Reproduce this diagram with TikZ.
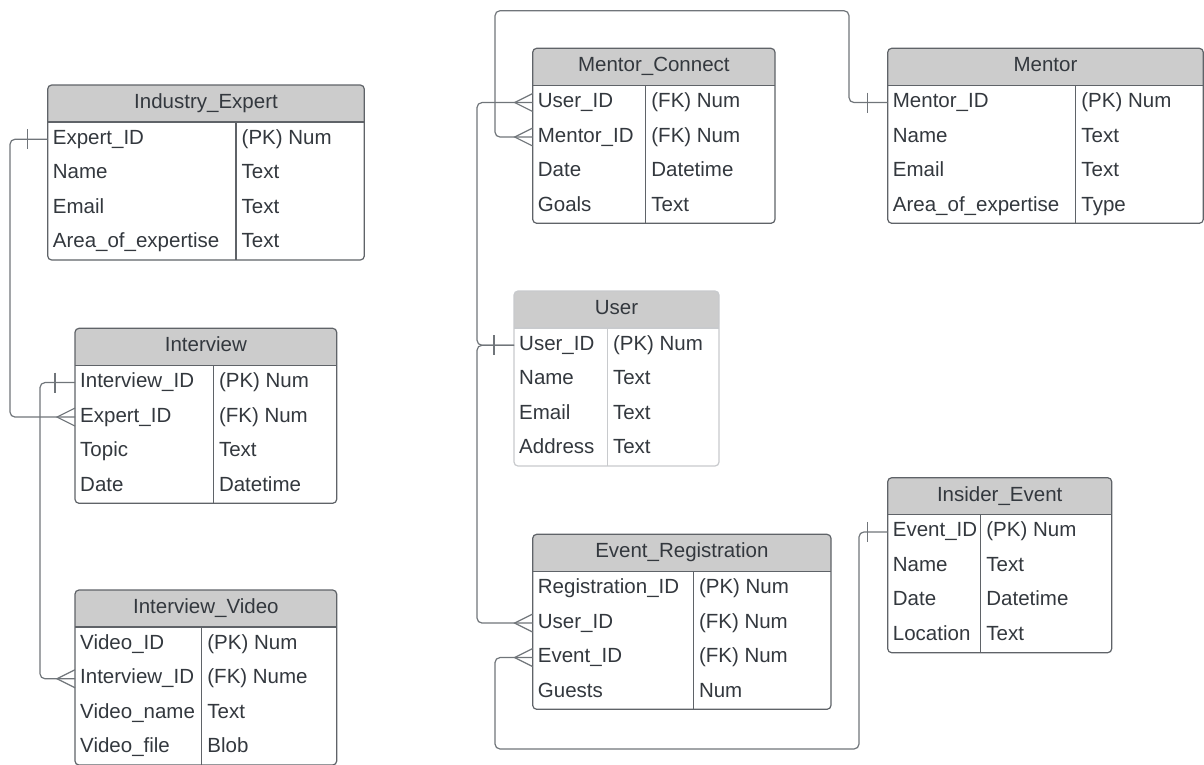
\documentclass[tikz,border=0pt]{standalone}
\usepackage{fontspec}
\setmainfont{Liberation Sans}
\usepackage{tikz}
\definecolor{erink}{HTML}{33383E}
\definecolor{erline}{HTML}{5F6368}
\definecolor{erlight}{HTML}{C8CACD}
\definecolor{erhead}{HTML}{CCCCCC}
\definecolor{erconn}{HTML}{70757A}

% one row of a table: index, field, type
\newcommand{\erfield}[3]{%
  \node[keycell] (\curtab-#1) at (0,{37+34.5*(#1-0.5)}) {#2};
  \node[typecell] (\curtab-#1t) at (\curdiv,{37+34.5*(#1-0.5)}) {#3};}

\begin{document}
\begin{tikzpicture}[x=1pt, y=-1pt, font=\fontsize{20.5}{24}\selectfont, text=erink,
  keycell/.style={anchor=west, inner xsep=5pt, inner ysep=0pt, text height=15pt, text depth=5pt},
  typecell/.style={keycell, inner xsep=5.5pt},
  headcell/.style={inner sep=0pt, text height=15pt, text depth=5pt},
  erbox/.style={draw=erline, line width=1.2pt},
  conn/.style={draw=erconn, line width=1.2pt, rounded corners=5pt}]
  \newcommand{\ertable}[7]{%
    \begin{scope}[shift={(#2,#3)}]
      \def\curtab{#1}\def\curdiv{#5}
      \fill[white, rounded corners=4pt] (0,0) rectangle (#4,175);
      \fill[erhead, rounded corners=4pt] (0,0) rectangle (#4,37);
      \fill[erhead] (0,20) rectangle (#4,37);
      \draw[erbox] (0,37) -- (#4,37) (#5,37) -- (#5,175);
      \draw[erbox, rounded corners=4pt] (0,0) rectangle (#4,175);
      \node[headcell] (#1) at (#4/2,18.5) {#6};
      #7
    \end{scope}}
  \newcommand{\onetick}[1]{\draw[conn] ([xshift=-20pt]#1) ++(0,-10) -- ++(0,20);}
  \newcommand{\crowfoot}[1]{\draw[conn, sharp corners] ([yshift=-9pt]#1) -- ([xshift=-18pt]#1) -- ([yshift=9pt]#1);}

  \useasboundingbox (0,0) rectangle (1204,764);

  \ertable{ie}{47.7}{85}{316.6}{188.3}{Industry\_Expert}{
    \erfield{1}{Expert\_ID}{(PK) Num}
    \erfield{2}{Name}{Text}
    \erfield{3}{Email}{Text}
    \erfield{4}{Area\_of\_expertise}{Text}}

  \ertable{iw}{75}{328.3}{261.7}{138.3}{Interview}{
    \erfield{1}{Interview\_ID}{(PK) Num}
    \erfield{2}{Expert\_ID}{(FK) Num}
    \erfield{3}{Topic}{Text}
    \erfield{4}{Date}{Datetime}}

  \ertable{iv}{75}{590}{261.7}{126.7}{Interview\_Video}{
    \erfield{1}{Video\_ID}{(PK) Num}
    \erfield{2}{Interview\_ID}{(FK) Nume}
    \erfield{3}{Video\_name}{Text}
    \erfield{4}{Video\_file}{Blob}}

  \ertable{mc}{532.7}{48.3}{242.3}{113}{Mentor\_Connect}{
    \erfield{1}{User\_ID}{(FK) Num}
    \erfield{2}{Mentor\_ID}{(FK) Num}
    \erfield{3}{Date}{Datetime}
    \erfield{4}{Goals}{Text}}

  \ertable{mt}{887.7}{48.3}{315.6}{188}{Mentor}{
    \erfield{1}{Mentor\_ID}{(PK) Num}
    \erfield{2}{Name}{Text}
    \erfield{3}{Email}{Text}
    \erfield{4}{Area\_of\_expertise}{Type}}

  \begin{scope}[erbox/.style={draw=erlight, line width=1.2pt}]
  \ertable{us}{514}{291}{205}{93.3}{User}{
    \erfield{1}{User\_ID}{(PK) Num}
    \erfield{2}{Name}{Text}
    \erfield{3}{Email}{Text}
    \erfield{4}{Address}{Text}}
  \end{scope}

  \ertable{er}{532.7}{534.3}{298.3}{160.6}{Event\_Registration}{
    \erfield{1}{Registration\_ID}{(PK) Num}
    \erfield{2}{User\_ID}{(FK) Num}
    \erfield{3}{Event\_ID}{(FK) Num}
    \erfield{4}{Guests}{Num}}

  \ertable{ev}{887.7}{477.7}{224}{93}{Insider\_Event}{
    \erfield{1}{Event\_ID}{(PK) Num}
    \erfield{2}{Name}{Text}
    \erfield{3}{Date}{Datetime}
    \erfield{4}{Location}{Text}}

  % relations
  \coordinate (ieBend) at (10,0);
  \coordinate (iwBend) at (40,0);
  \coordinate (mcTopL) at (495,10.7);
  \coordinate (mcTopR) at (849,10.7);
  \coordinate (usSpine) at (477,0);
  \coordinate (erBotL) at (495,749);
  \coordinate (erBotR) at (859,749);

  \draw[conn] (ie-1.west) -| (ieBend |- iw-2.west) -- (iw-2.west);
  \draw[conn] (iw-1.west) -| (iwBend |- iv-2.west) -- (iv-2.west);
  \draw[conn] (mc-2.west) -| (mcTopL) -| (mcTopR |- mt-1.west) -- (mt-1.west);
  \draw[conn] (us-1.west) -| (usSpine |- mc-1.west) -- (mc-1.west);
  \draw[conn] (us-1.west) -| (usSpine |- er-2.west) -- (er-2.west);
  \draw[conn] (er-3.west) -| (erBotL) -| (erBotR |- ev-1.west) -- (ev-1.west);

  \onetick{ie-1.west} \crowfoot{iw-2.west}
  \onetick{iw-1.west} \crowfoot{iv-2.west}
  \crowfoot{mc-2.west} \onetick{mt-1.west}
  \onetick{us-1.west} \crowfoot{mc-1.west} \crowfoot{er-2.west}
  \crowfoot{er-3.west} \onetick{ev-1.west}
\end{tikzpicture}
\end{document}
